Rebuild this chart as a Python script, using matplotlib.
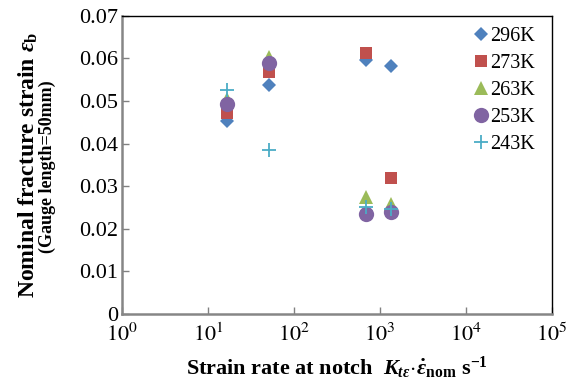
import matplotlib
matplotlib.use('Agg')
import matplotlib.pyplot as plt
import numpy as np
from matplotlib.ticker import FuncFormatter, NullLocator, LogLocator

plt.rcParams['font.family'] = ['Liberation Serif', 'DejaVu Serif']
plt.rcParams['mathtext.fontset'] = 'stix'
# bold serif set used by the axis titles (math_fontfamily='custom')
plt.rcParams['mathtext.rm'] = 'Liberation Serif:bold'
plt.rcParams['mathtext.it'] = 'Liberation Serif:italic:bold'
plt.rcParams['mathtext.bf'] = 'Liberation Serif:bold'

# strain rates at notch (s^-1) for the four test conditions
rates = [16.6, 51.9, 687, 1343]

temps = ['296K', '273K', '263K', '253K', '243K']
strain_296 = [0.0452, 0.0537, 0.0596, 0.0581]
strain_273 = [0.0472, 0.0567, 0.0612, 0.0320]
strain_263 = [0.0505, 0.0603, 0.0274, 0.0258]
strain_253 = [0.0494, 0.0590, 0.0236, 0.0239]
strain_243 = [0.0526, 0.0386, 0.0252, 0.0247]

series = [strain_296, strain_273, strain_263, strain_253, strain_243]
colors = ['#4F81BD', '#C0504D', '#9BBB59', '#8064A2', '#4BACC6']
markers = ['D', 's', '^', 'o', '+']
sizes = [7.5, 9, 9.5, 11, 10]

fig = plt.figure(figsize=(5.74, 3.84), dpi=100)
ax = fig.add_axes([0.2125, 0.182, 0.7485, 0.777])

for vals, t, c, m, s in zip(series, temps, colors, markers, sizes):
    ax.plot(rates, vals, linestyle='none', marker=m, color=c, markersize=s,
            markeredgewidth=1.3 if m == '+' else 0, label=t)

ax.set_xscale('log')
ax.set_xlim(1, 1e5)
ax.set_ylim(0, 0.07)
ax.xaxis.set_major_locator(LogLocator(base=10, numticks=10))
ax.xaxis.set_minor_locator(NullLocator())
ax.set_yticks(np.arange(0, 0.0701, 0.01))
ax.yaxis.set_major_formatter(FuncFormatter(lambda v, p: '0' if v == 0 else '%.2f' % v))
ax.xaxis.set_major_formatter(FuncFormatter(lambda v, p: r'$10^{%d}$' % round(np.log10(v))))

ax.tick_params(axis='both', direction='in', labelsize=16, length=5, width=1,
               color='#808080')
ax.tick_params(axis='x', pad=7)
ax.tick_params(axis='y', pad=3)
for side in ['left', 'bottom']:
    ax.spines[side].set_color('#868686')
    ax.spines[side].set_linewidth(1.8)
for side in ['top', 'right']:
    ax.spines[side].set_color('black')
    ax.spines[side].set_linewidth(1.0)

ax.set_xlabel(r'Strain rate at notch  $K_{t\varepsilon}\!\cdot\!\dot{\varepsilon}_{\mathbf{nom}}$ s$^{\mathbf{-1}}$',
              fontsize=16, fontweight='bold', labelpad=6, math_fontfamily='custom')
fig.text(0.049, 0.57, r'Nominal fracture strain $\varepsilon_{\mathrm{b}}$', rotation=90,
         fontsize=17, fontweight='bold', ha='center', va='center',
         math_fontfamily='custom')
fig.text(0.082, 0.567, '(Gauge length=50mm)', rotation=90,
         fontsize=13, fontweight='bold', ha='center', va='center')

ax.legend(loc='upper right', frameon=False, fontsize=14.5, handlelength=0.5,
          handletextpad=0.2, labelspacing=0.4, borderaxespad=0.0,
          bbox_to_anchor=(0.98, 0.99))

fig.savefig('out.png', dpi=100)
